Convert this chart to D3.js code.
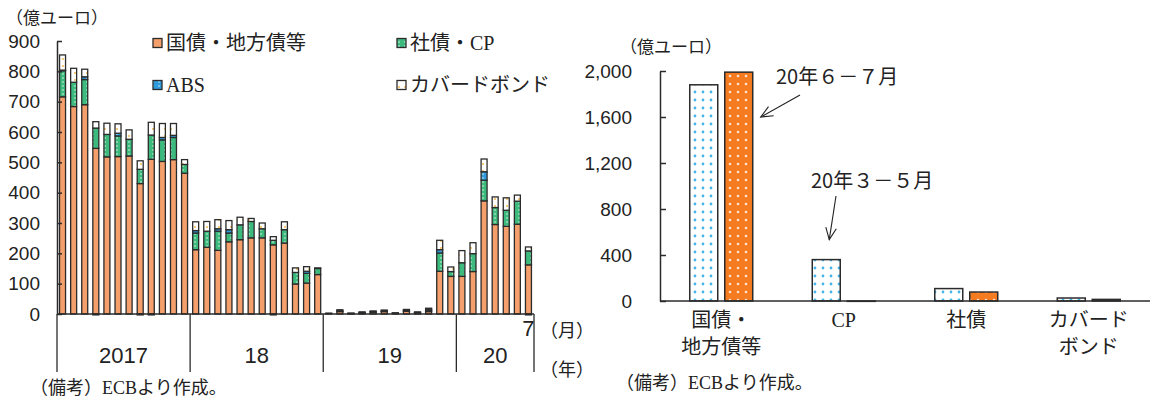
<!DOCTYPE html>
<html><head><meta charset="utf-8">
<script src="https://cdn.jsdelivr.net/npm/d3@7"></script>
<style>body{margin:0;background:#fff}svg{display:block}</style>
</head><body>
<svg id="c" width="1154" height="399"></svg>
<script>
// ---- Monthly net purchases, Jan 2017 – Jul 2020 (億ユーロ) ----
const govBonds = [716,684,690,546,518,519,521,430,510,503,509,464,
                  212,220,210,238,245,251,251,228,234,99,102,130,
                  3,8,1,4,6,8,3,9,3,8,141,124,
                  124,140,373,295,289,296,162];
const corpCP   = [86,80,83,67,74,68,55,47,80,71,73,29,
                  55,53,63,29,49,54,30,15,44,38,32,20,
                  0,2,1,1,2,2,0,3,2,3,60,16,
                  45,59,68,56,53,76,46];
const absVals  = [2,0,9,-3,0,9,0,-3,-3,8,7,0,
                  8,0,8,11,0,0,0,-3,0,0,7,0,
                  0,0,0,0,0,0,0,0,0,5,11,0,
                  0,0,28,0,0,0,-3];
const covered  = [50,46,25,21,37,31,31,28,42,46,39,16,
                  29,32,30,30,25,10,19,12,26,15,15,2,
                  0,4,1,2,2,3,1,3,2,3,31,15,
                  40,36,42,35,41,20,13];
const yearLabels = ["2017","18","19","20"];
const yearMonths = [12,12,12,7];
const lastMonthLabel = "7";
const leftTicks = d3.range(0, 901, 100);
const seriesNames = ["国債・地方債等","社債・CP","ABS","カバードボンド"];

// ---- Purchases by asset class, two periods (億ユーロ) ----
const assetClasses = [["国債・","地方債等"],["CP"],["社債"],["カバード","ボンド"]];
const periodLabels = ["20年３－５月","20年６－７月"];
const marToMay = [1880,360,108,26];
const junToJul = [1990,-3,78,14];
const rightTicks = d3.range(0, 2001, 400);

const svg = d3.select("#c");
const JP = "'Noto Sans CJK JP', sans-serif";
const NUM = "'Liberation Sans Narrow','Liberation Sans', Arial, sans-serif";
const SERIF_JP = "'Liberation Serif','Noto Sans CJK JP', serif";
const INK = "#2b2b2b";

// ---- fill patterns ----
const defs = svg.append("defs");
function dots(id, w, h, bg, dot, r, pts, ox = 0){
  const p = defs.append("pattern").attr("id", id).attr("patternUnits","userSpaceOnUse")
    .attr("x", ox).attr("width", w).attr("height", h);
  p.append("rect").attr("width", w).attr("height", h).attr("fill", bg);
  pts.forEach(([x,y]) => p.append("circle").attr("cx", x).attr("cy", y).attr("r", r).attr("fill", dot));
}
dots("pGreen", 6, 4, "#3dba7e", "#e9fbef", 0.75, [[3,2]]);
dots("pBlue", 6, 4, "#2f9bdb", "#e6f6ff", 0.75, [[3,2]]);
dots("pCov", 6, 7, "#ffffff", "#f2b23c", 0.9, [[3,3]]);
dots("pDotBlue", 8, 8, "#ffffff", "#45b5ea", 1.4, [[4,4]], 3);
dots("pDotOrange", 8, 8, "#f47b20", "#fde3cf", 1.3, [[4,4]], 6);
const leftFills = ["#f5a06c", "url(#pGreen)", "url(#pBlue)", "url(#pCov)"];

// ================= Left chart: stacked monthly bars =================
const L = {x0: 57, x1: 534, y0: 314, y1: 41};
const months = d3.range(govBonds.length);
const x = d3.scaleBand().domain(months).range([L.x0, L.x1]).paddingInner(0.46).paddingOuter(0.23);
const y = d3.scaleLinear().domain([0, 900]).range([L.y0, L.y1]);
const step = x.step();

const rows = months.map(i => ({gov: govBonds[i], corp: corpCP[i], abs: absVals[i], cov: covered[i]}));
const keys = ["gov","corp","abs","cov"];
const stacked = d3.stack().keys(keys).offset(d3.stackOffsetDiverging)(rows);

const gBars = svg.append("g");
stacked.forEach((layer, k) => {
  gBars.selectAll(null).data(layer.map((d, i) => ({d, i})).filter(o => o.d[1] !== o.d[0]))
    .join("rect")
    .attr("x", o => x(o.i))
    .attr("width", x.bandwidth())
    .attr("y", o => y(Math.max(o.d[0], o.d[1])))
    .attr("height", o => Math.abs(y(o.d[0]) - y(o.d[1])))
    .attr("fill", leftFills[k])
    .attr("stroke", INK).attr("stroke-width", 1.3);
});

// y axis
const yAxis = d3.axisLeft(y).tickValues(leftTicks).tickSizeInner(-5).tickSizeOuter(0).tickPadding(17);
const gy = svg.append("g").attr("transform", `translate(${L.x0},0)`).call(yAxis);
gy.select(".domain").attr("stroke", INK).attr("stroke-width", 1.5);
gy.selectAll(".tick line").attr("stroke", INK).attr("stroke-width", 1.5);
gy.selectAll("text").attr("font-family", NUM).attr("font-size", 19).attr("fill", "#222");

// baseline
svg.append("line").attr("x1", L.x0).attr("x2", L.x1).attr("y1", y(0)).attr("y2", y(0))
  .attr("stroke", INK).attr("stroke-width", 1.5);

// year separators and labels
let acc = 0;
const bounds = [0];
yearMonths.forEach(n => { acc += n; bounds.push(acc); });
bounds.forEach(b => {
  svg.append("line").attr("x1", L.x0 + b*step).attr("x2", L.x0 + b*step)
    .attr("y1", y(0)).attr("y2", 372).attr("stroke", INK).attr("stroke-width", 1.3);
});
yearLabels.forEach((t, i) => {
  svg.append("text").attr("x", L.x0 + (bounds[i] + bounds[i+1]) / 2 * step).attr("y", 355)
    .attr("text-anchor", "middle").attr("dominant-baseline", "central")
    .attr("font-family", NUM).attr("font-size", 22).attr("fill", "#222").text(t);
});
svg.append("text").attr("x", x(months.length - 1) + x.bandwidth()/2).attr("y", 328)
  .attr("text-anchor", "middle").attr("dominant-baseline", "central")
  .attr("font-family", NUM).attr("font-size", 22).attr("fill", "#222").text(lastMonthLabel);
svg.append("text").attr("x", 540).attr("y", 329).attr("dominant-baseline", "central")
  .attr("font-family", JP).attr("font-size", 18).attr("fill", "#222").text("（月）");
svg.append("text").attr("x", 540).attr("y", 368).attr("dominant-baseline", "central")
  .attr("font-family", JP).attr("font-size", 18).attr("fill", "#222").text("（年）");

// unit
svg.append("text").attr("x", 6).attr("y", 16).attr("dominant-baseline", "central")
  .attr("font-family", JP).attr("font-size", 17).attr("fill", "#222").text("（億ユーロ）");

// legend
const legendPos = [[153, 43], [397, 43], [153, 85], [397, 85]];
seriesNames.forEach((name, k) => {
  const [lx, ly] = legendPos[k];
  svg.append("rect").attr("x", lx).attr("y", ly - 4.5).attr("width", 9).attr("height", 9)
    .attr("fill", leftFills[k]).attr("stroke", INK).attr("stroke-width", 1.3);
  svg.append("text").attr("x", lx + 13).attr("y", ly).attr("dominant-baseline", "central")
    .attr("font-family", SERIF_JP).attr("font-size", 20).attr("fill", "#222").text(name);
});

// note
svg.append("text").attr("x", 30).attr("y", 388).attr("dominant-baseline", "central")
  .attr("font-family", SERIF_JP).attr("font-size", 18).attr("fill", "#222").text("（備考）ECBより作成。");

// ================= Right chart: grouped bars =================
const R = {x0: 660, x1: 1150, y0: 301, y1: 71};
const xr = d3.scaleBand().domain(d3.range(assetClasses.length)).range([R.x0, R.x1])
  .paddingInner(0.486).paddingOuter(0.243);
const xs = d3.scaleBand().domain([0, 1]).range([0, xr.bandwidth()]).paddingInner(0.2);
const yr = d3.scaleLinear().domain([0, 2000]).range([R.y0, R.y1]);
const periods = [marToMay, junToJul];
const periodFills = ["url(#pDotBlue)", "url(#pDotOrange)"];

const gR = svg.append("g");
periods.forEach((vals, s) => {
  gR.selectAll(null).data(vals).join("rect")
    .attr("x", (v, i) => xr(i) + xs(s))
    .attr("width", xs.bandwidth())
    .attr("y", v => yr(Math.max(0, v)))
    .attr("height", v => Math.abs(yr(v) - yr(0)))
    .attr("fill", periodFills[s])
    .attr("stroke", INK).attr("stroke-width", 1.5);
});

const yAxisR = d3.axisLeft(yr).tickValues(rightTicks).tickSizeInner(-6).tickSizeOuter(0).tickPadding(28)
  .tickFormat(d3.format(","));
const gyr = svg.append("g").attr("transform", `translate(${R.x0},0)`).call(yAxisR);
gyr.select(".domain").attr("stroke", INK).attr("stroke-width", 1.5);
gyr.selectAll(".tick line").attr("stroke", INK).attr("stroke-width", 1.5);
gyr.selectAll("text").attr("font-family", NUM).attr("font-size", 19).attr("fill", "#222");

svg.append("line").attr("x1", R.x0).attr("x2", R.x1).attr("y1", yr(0)).attr("y2", yr(0))
  .attr("stroke", INK).attr("stroke-width", 1.5);

assetClasses.forEach((lines, i) => {
  lines.forEach((t, j) => {
    svg.append("text").attr("x", xr(i) + xr.bandwidth()/2).attr("y", 320 + j*27)
      .attr("text-anchor", "middle").attr("dominant-baseline", "central")
      .attr("font-family", SERIF_JP).attr("font-size", 20).attr("fill", "#222").text(t);
  });
});

svg.append("text").attr("x", 620).attr("y", 45).attr("dominant-baseline", "central")
  .attr("font-family", JP).attr("font-size", 17).attr("fill", "#222").text("（億ユーロ）");
svg.append("text").attr("x", 616).attr("y", 383).attr("dominant-baseline", "central")
  .attr("font-family", SERIF_JP).attr("font-size", 18).attr("fill", "#222").text("（備考）ECBより作成。");

// annotations with arrows
function arrow(x1, y1, x2, y2){
  const a = Math.atan2(y2 - y1, x2 - x1), len = 13, spread = 0.42;
  const g = svg.append("g").attr("stroke", "#222").attr("stroke-width", 1.1).attr("fill", "none");
  g.append("line").attr("x1", x1).attr("y1", y1).attr("x2", x2).attr("y2", y2);
  g.append("polyline").attr("points", [
    [x2 - len*Math.cos(a - spread), y2 - len*Math.sin(a - spread)],
    [x2, y2],
    [x2 - len*Math.cos(a + spread), y2 - len*Math.sin(a + spread)]].map(p => p.join(",")).join(" "));
}
const govRight = xr(0) + xs(1) + xs.bandwidth();
svg.append("text").attr("x", 776).attr("y", 75).attr("dominant-baseline", "central")
  .attr("font-family", JP).attr("font-size", 20).attr("fill", "#222").text(periodLabels[1]);
arrow(800, 95, govRight + 8, yr(1600));
const cpCenter = xr(1) + xs(0) + xs.bandwidth()/2;
svg.append("text").attr("x", 811).attr("y", 179).attr("dominant-baseline", "central")
  .attr("font-family", JP).attr("font-size", 20).attr("fill", "#222").text(periodLabels[0]);
arrow(836, 196, cpCenter + 3, yr(marToMay[1]) - 20);
</script>
</body></html>
